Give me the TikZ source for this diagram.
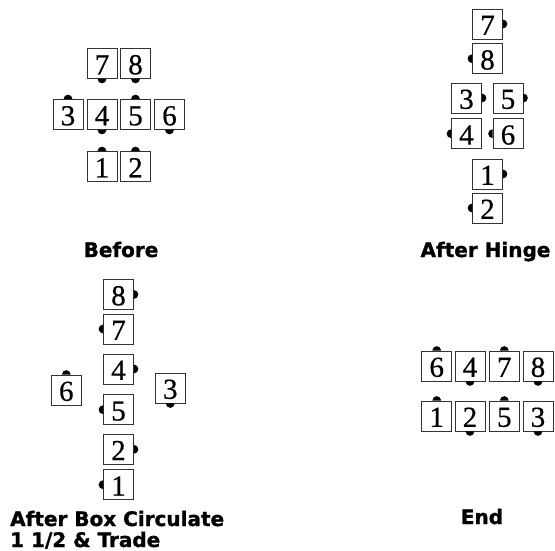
\documentclass[tikz,border=0pt]{standalone}
\usepackage{fontspec}
\newfontfamily\numfont[FakeBold=0.6]{Liberation Serif}
\newfontfamily\labfont[FakeBold=1.2]{DejaVu Sans Bold}
\tikzset{
  dancer/.style={draw=black!80, line width=0.9pt, fill=white, minimum width=30pt, minimum height=30pt,
    inner sep=0pt, font=\numfont\fontsize{29}{29}\selectfont, text height=19.6pt, text depth=0pt},
  caption/.style={font=\labfont\fontsize{20}{24}\selectfont, inner sep=0pt}
}
% #1 node name, #2 position, #3 number, #4 facing angle (canvas degrees)
\newcommand\dancerat[4]{%
  \node[dancer] (#1) at (#2) {\raisebox{-1pt}{#3}};
  \fill[black] (#1.#4) ++(#4+90:4.4pt) arc[start angle=#4+90, end angle=#4-90, radius=4.4pt] -- cycle;
}
\begin{document}
\begin{tikzpicture}[x=1pt,y=-1pt]
\useasboundingbox (0,0) rectangle (555,551);
% Before
\dancerat{b7}{102,63.5}{7}{270}
\dancerat{b8}{135.5,63.5}{8}{270}
\dancerat{b3}{68,114.5}{3}{90}
\dancerat{b4}{102,114.5}{4}{270}
\dancerat{b5}{135.5,114.5}{5}{90}
\dancerat{b6}{169.5,114.5}{6}{270}
\dancerat{b1}{102,166.5}{1}{90}
\dancerat{b2}{135.5,166.5}{2}{90}
\node[caption, anchor=base] (lbefore) at (121,257) {Before};
% After Hinge
\dancerat{h7}{487.5,24}{7}{0}
\dancerat{h8}{487.5,58.7}{8}{180}
\dancerat{h3}{466.5,98}{3}{0}
\dancerat{h5}{508,98}{5}{0}
\dancerat{h4}{466.5,133.7}{4}{180}
\dancerat{h6}{508,133.7}{6}{180}
\dancerat{h1}{487.5,174}{1}{0}
\dancerat{h2}{487.5,208}{2}{180}
\node[caption, anchor=base] (lhinge) at (485.5,257) {After Hinge};
% After Box Circulate 1 1/2 & Trade
\dancerat{c8}{118.5,294.5}{8}{0}
\dancerat{c7}{118.5,329}{7}{180}
\dancerat{c4}{118.5,369}{4}{0}
\dancerat{c5}{118.5,409.7}{5}{180}
\dancerat{c2}{118.5,449.3}{2}{0}
\dancerat{c1}{118.5,484.7}{1}{180}
\dancerat{c6}{66.3,390}{6}{90}
\dancerat{c3}{170.3,388}{3}{270}
\node[caption, anchor=base west] (lbox1) at (10,526) {After Box Circulate};
\node[caption, anchor=base west] (lbox2) at (10,547) {1 1/2 \& Trade};
% End
\dancerat{e6}{436.7,366}{6}{90}
\dancerat{e4}{470,366}{4}{270}
\dancerat{e7}{504.3,366}{7}{90}
\dancerat{e8}{538,366}{8}{270}
\dancerat{e1}{436.7,416}{1}{90}
\dancerat{e2}{470,416}{2}{270}
\dancerat{e5}{504.3,416}{5}{90}
\dancerat{e3}{538,416}{3}{270}
\node[caption, anchor=base] (lend) at (482,524) {End};
\end{tikzpicture}
\end{document}
